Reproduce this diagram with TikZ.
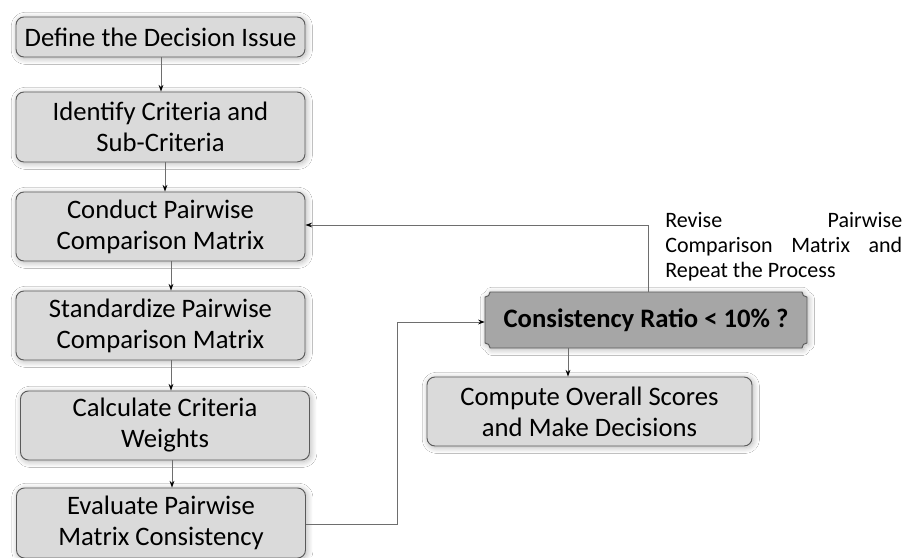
\documentclass[tikz,border=0pt]{standalone}
\usepackage{fontspec}
\setmainfont{Carlito}
\usetikzlibrary{arrows.meta,shadows.blur,calc}
\definecolor{boxfill}{HTML}{DADADA}
\definecolor{boxline}{HTML}{5A5A5A}
\definecolor{decfill}{HTML}{A6A6A6}
\definecolor{conn}{HTML}{6E6E6E}
\tikzset{
  shade/.style={blur shadow={shadow xshift=1pt, shadow yshift=-1pt, shadow blur radius=4.5pt, shadow opacity=30, shadow blur steps=20}},
  stepbox/.style={draw=boxline, fill=boxfill, rounded corners=6pt, line width=0.7pt, shade,
    minimum width=216.75pt, align=center, inner sep=0pt,
    font=\fontsize{20}{23.25}\selectfont, text=black},
  conn/.style={draw=conn, line width=0.6pt, -{Stealth[length=5pt,width=3.6pt,black]}},
}
\begin{document}
\begin{tikzpicture}[x=0.75pt,y=-0.75pt]
\useasboundingbox (0,0) rectangle (905,557);
\fill[white] (0,0) rectangle (905,557);

\node[stepbox, minimum height=30pt] (b1) at (160.5,37) {Define the Decision Issue};
\node[stepbox, minimum height=52.5pt] (b2) at (160.5,127) {Identify Criteria and\\Sub-Criteria};
\node[stepbox, minimum height=51.75pt] (b3) at (160.5,226.5) {Conduct Pairwise\\Comparison Matrix};
\node[stepbox, minimum height=51.75pt] (b4) at (160.5,325.5) {Standardize Pairwise\\Comparison Matrix};
\node[stepbox, minimum height=51.75pt] (b5) at (165,425.5) {Calculate Criteria\\Weights};
\node[stepbox, minimum height=52.5pt] (b6) at (161,523) {Evaluate Pairwise\\Matrix Consistency};

\node[stepbox, minimum width=243.75pt, minimum height=51.75pt] (comp) at (589.5,411.5) {Compute Overall Scores\\and Make Decisions};

% decision plaque
\path[fill=decfill, draw=boxline, line width=0.7pt, shade]
  ($(485,292)+(3.8pt,0)$) -- ($(807,292)+(-3.8pt,0)$)
  arc[start angle=180, end angle=270, radius=3.8pt]
  -- ($(807,348)+(0,3.8pt)$)
  arc[start angle=90, end angle=180, radius=3.8pt]
  -- ($(485,348)+(3.8pt,0)$)
  arc[start angle=0, end angle=90, radius=3.8pt]
  -- ($(485,292)+(0,-3.8pt)$)
  arc[start angle=270, end angle=360, radius=3.8pt] -- cycle;
\node[minimum width=241.5pt, minimum height=42pt, inner sep=0pt,
  font=\fontsize{20}{23.25}\selectfont\bfseries] (dec) at (646,320) {Consistency Ratio < 10\% ?};

% annotation
\node[anchor=north west, inner sep=0pt, align=left,
  font=\fontsize{16.5}{18.75}\selectfont] (note) at (665,212)
  {\makebox[177.75pt][s]{Revise Pairwise}\\
   \makebox[177.75pt][s]{Comparison Matrix and}\\
   Repeat the Process};

% connectors
\draw[conn] (b1.south -| 161,0) -- (b2.north -| 161,0);
\draw[conn] (b2.south -| 165,0) -- (b3.north -| 165,0);
\draw[conn] (b3.south -| 171,0) -- (b4.north -| 171,0);
\draw[conn] (b4.south -| 171,0) -- (b5.north -| 171,0);
\draw[conn] (b5.south -| 172,0) -- (b6.north -| 172,0);
\draw[conn] (b6.east |- 0,524) -- (397,524) -- (397,322) -- (dec.west |- 0,322);
\draw[conn] (dec.south -| 568,0) -- (comp.north -| 568,0);
\draw[conn] (dec.north -| 648,0) -- (648,225) -- (b3.east |- 0,225);
\end{tikzpicture}
\end{document}
